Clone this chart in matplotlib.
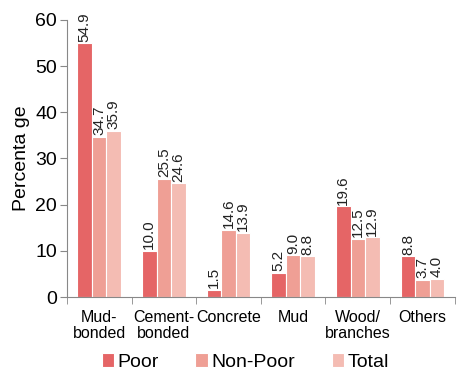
import matplotlib
matplotlib.use("Agg")
import matplotlib.pyplot as plt
import numpy as np

categories = ["Mud-\nbonded", "Cement-\nbonded", "Concrete", "Mud", "Wood/\nbranches", "Others"]
poor = [54.9, 10.0, 1.5, 5.2, 19.6, 8.8]
non_poor = [34.7, 25.5, 14.6, 9.0, 12.5, 3.7]
total = [35.9, 24.6, 13.9, 8.8, 12.9, 4.0]
series_names = ["Poor", "Non-Poor", "Total"]
colors = ["#E56566", "#EF9F95", "#F4BCB3"]

plt.rcParams['font.family'] = ['Liberation Sans', 'DejaVu Sans']

fig = plt.figure(figsize=(4.58, 3.75), dpi=100)
ax = fig.add_axes([0.146, 0.208, 0.847, 0.739])

x = np.arange(len(categories))
w = 0.225
for i, (vals, name, c) in enumerate(zip([poor, non_poor, total], series_names, colors)):
    pos = x + (i - 1) * w
    bars = ax.bar(pos, vals, width=w, color=c, edgecolor="white", linewidth=0.8, label=name)
    for b, v in zip(bars, vals):
        ax.text(b.get_x() + b.get_width() / 2, v + 0.4, f"{v:.1f}", rotation=90,
                ha="center", va="bottom", fontsize=11, color="#222222")

ax.set_xlim(-0.5, len(categories) - 0.5)
ax.set_ylim(0, 60)
ax.set_yticks(range(0, 61, 10))
ax.tick_params(axis="y", labelsize=14, length=5, color="#888888", pad=2)
ax.set_xticks(x)
ax.set_xticklabels(categories, fontsize=11.5, linespacing=1.15)
ax.tick_params(axis="x", length=0, pad=9)
ax.set_xticks(np.arange(-0.5, len(categories), 1), minor=True)
ax.tick_params(axis="x", which="minor", length=5, color="#888888")
for s in ["top", "right"]:
    ax.spines[s].set_visible(False)
for s in ["left", "bottom"]:
    ax.spines[s].set_color("#888888")
ax.set_ylabel("Percenta ge", fontsize=14, labelpad=4)

fig.legend(loc="lower center", ncol=3, frameon=False, fontsize=14,
           bbox_to_anchor=(0.535, -0.035), handlelength=0.65, handleheight=0.75,
           handletextpad=0.15, columnspacing=1.9)

fig.savefig("out.png", dpi=100)
